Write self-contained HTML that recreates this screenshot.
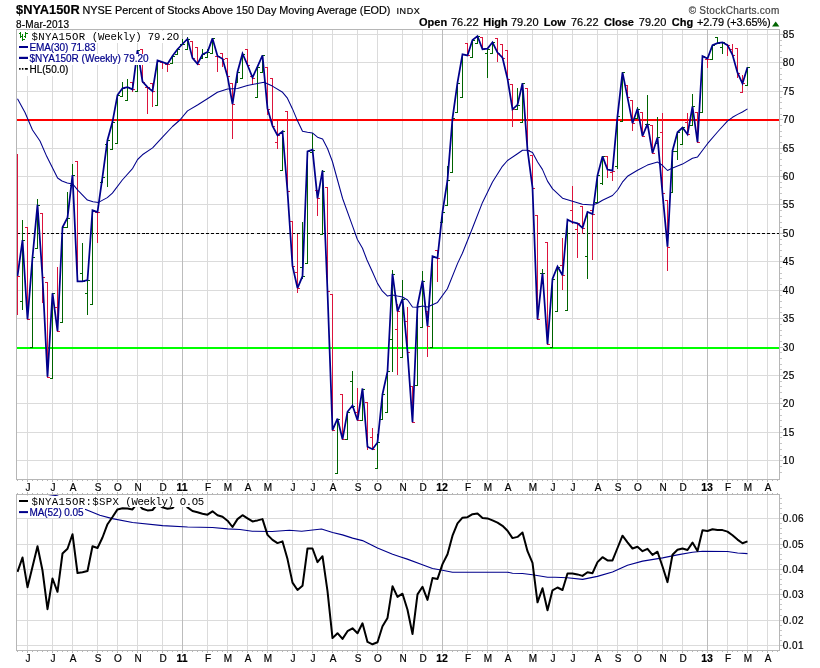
<!DOCTYPE html>
<html><head><meta charset="utf-8"><title>$NYA150R</title>
<style>
html,body{margin:0;padding:0;background:#fff}
body{width:820px;height:668px;position:relative;overflow:hidden;font-family:"Liberation Sans",sans-serif}
.t{position:absolute;white-space:nowrap;font-family:"Liberation Sans",sans-serif;-webkit-text-stroke:.2px}
#tx{position:absolute;left:0;top:0;width:820px;height:668px;will-change:transform;transform:translateZ(0)}
.lg{position:absolute;background:#fff}
</style></head><body>
<svg width="820" height="668" viewBox="0 0 820 668" style="position:absolute;left:0;top:0">
<rect width="820" height="668" fill="#fff"/>
<g shape-rendering="crispEdges" fill="none">
<line x1="16.5" x2="779.5" y1="460.5" y2="460.5" stroke="#dbdbdb"/>
<line x1="16.5" x2="779.5" y1="432.5" y2="432.5" stroke="#dbdbdb"/>
<line x1="16.5" x2="779.5" y1="403.5" y2="403.5" stroke="#dbdbdb"/>
<line x1="16.5" x2="779.5" y1="375.5" y2="375.5" stroke="#dbdbdb"/>
<line x1="16.5" x2="779.5" y1="347.5" y2="347.5" stroke="#dbdbdb"/>
<line x1="16.5" x2="779.5" y1="318.5" y2="318.5" stroke="#dbdbdb"/>
<line x1="16.5" x2="779.5" y1="290.5" y2="290.5" stroke="#dbdbdb"/>
<line x1="16.5" x2="779.5" y1="261.5" y2="261.5" stroke="#dbdbdb"/>
<line x1="16.5" x2="779.5" y1="233.5" y2="233.5" stroke="#dbdbdb"/>
<line x1="16.5" x2="779.5" y1="204.5" y2="204.5" stroke="#dbdbdb"/>
<line x1="16.5" x2="779.5" y1="176.5" y2="176.5" stroke="#dbdbdb"/>
<line x1="16.5" x2="779.5" y1="148.5" y2="148.5" stroke="#dbdbdb"/>
<line x1="16.5" x2="779.5" y1="119.5" y2="119.5" stroke="#dbdbdb"/>
<line x1="16.5" x2="779.5" y1="91.5" y2="91.5" stroke="#dbdbdb"/>
<line x1="16.5" x2="779.5" y1="62.5" y2="62.5" stroke="#dbdbdb"/>
<line x1="16.5" x2="779.5" y1="34.5" y2="34.5" stroke="#dbdbdb"/>
<line x1="16.5" x2="779.5" y1="645.5" y2="645.5" stroke="#dbdbdb"/>
<line x1="16.5" x2="779.5" y1="620.5" y2="620.5" stroke="#dbdbdb"/>
<line x1="16.5" x2="779.5" y1="594.5" y2="594.5" stroke="#dbdbdb"/>
<line x1="16.5" x2="779.5" y1="569.5" y2="569.5" stroke="#dbdbdb"/>
<line x1="16.5" x2="779.5" y1="544.5" y2="544.5" stroke="#dbdbdb"/>
<line x1="16.5" x2="779.5" y1="518.5" y2="518.5" stroke="#dbdbdb"/>
<line x1="27.5" x2="27.5" y1="29.5" y2="479.5" stroke="#dbdbdb"/>
<line x1="27.5" x2="27.5" y1="494.5" y2="650.5" stroke="#dbdbdb"/>
<line x1="52.5" x2="52.5" y1="29.5" y2="479.5" stroke="#dbdbdb"/>
<line x1="52.5" x2="52.5" y1="494.5" y2="650.5" stroke="#dbdbdb"/>
<line x1="72.5" x2="72.5" y1="29.5" y2="479.5" stroke="#dbdbdb"/>
<line x1="72.5" x2="72.5" y1="494.5" y2="650.5" stroke="#dbdbdb"/>
<line x1="97.5" x2="97.5" y1="29.5" y2="479.5" stroke="#dbdbdb"/>
<line x1="97.5" x2="97.5" y1="494.5" y2="650.5" stroke="#dbdbdb"/>
<line x1="117.5" x2="117.5" y1="29.5" y2="479.5" stroke="#dbdbdb"/>
<line x1="117.5" x2="117.5" y1="494.5" y2="650.5" stroke="#dbdbdb"/>
<line x1="137.5" x2="137.5" y1="29.5" y2="479.5" stroke="#dbdbdb"/>
<line x1="137.5" x2="137.5" y1="494.5" y2="650.5" stroke="#dbdbdb"/>
<line x1="162.5" x2="162.5" y1="29.5" y2="479.5" stroke="#dbdbdb"/>
<line x1="162.5" x2="162.5" y1="494.5" y2="650.5" stroke="#dbdbdb"/>
<line x1="182.5" x2="182.5" y1="29.5" y2="479.5" stroke="#bcbcbc"/>
<line x1="182.5" x2="182.5" y1="494.5" y2="650.5" stroke="#bcbcbc"/>
<line x1="207.5" x2="207.5" y1="29.5" y2="479.5" stroke="#dbdbdb"/>
<line x1="207.5" x2="207.5" y1="494.5" y2="650.5" stroke="#dbdbdb"/>
<line x1="227.5" x2="227.5" y1="29.5" y2="479.5" stroke="#dbdbdb"/>
<line x1="227.5" x2="227.5" y1="494.5" y2="650.5" stroke="#dbdbdb"/>
<line x1="247.5" x2="247.5" y1="29.5" y2="479.5" stroke="#dbdbdb"/>
<line x1="247.5" x2="247.5" y1="494.5" y2="650.5" stroke="#dbdbdb"/>
<line x1="267.5" x2="267.5" y1="29.5" y2="479.5" stroke="#dbdbdb"/>
<line x1="267.5" x2="267.5" y1="494.5" y2="650.5" stroke="#dbdbdb"/>
<line x1="292.5" x2="292.5" y1="29.5" y2="479.5" stroke="#dbdbdb"/>
<line x1="292.5" x2="292.5" y1="494.5" y2="650.5" stroke="#dbdbdb"/>
<line x1="312.5" x2="312.5" y1="29.5" y2="479.5" stroke="#dbdbdb"/>
<line x1="312.5" x2="312.5" y1="494.5" y2="650.5" stroke="#dbdbdb"/>
<line x1="332.5" x2="332.5" y1="29.5" y2="479.5" stroke="#dbdbdb"/>
<line x1="332.5" x2="332.5" y1="494.5" y2="650.5" stroke="#dbdbdb"/>
<line x1="357.5" x2="357.5" y1="29.5" y2="479.5" stroke="#dbdbdb"/>
<line x1="357.5" x2="357.5" y1="494.5" y2="650.5" stroke="#dbdbdb"/>
<line x1="377.5" x2="377.5" y1="29.5" y2="479.5" stroke="#dbdbdb"/>
<line x1="377.5" x2="377.5" y1="494.5" y2="650.5" stroke="#dbdbdb"/>
<line x1="402.5" x2="402.5" y1="29.5" y2="479.5" stroke="#dbdbdb"/>
<line x1="402.5" x2="402.5" y1="494.5" y2="650.5" stroke="#dbdbdb"/>
<line x1="422.5" x2="422.5" y1="29.5" y2="479.5" stroke="#dbdbdb"/>
<line x1="422.5" x2="422.5" y1="494.5" y2="650.5" stroke="#dbdbdb"/>
<line x1="442.5" x2="442.5" y1="29.5" y2="479.5" stroke="#bcbcbc"/>
<line x1="442.5" x2="442.5" y1="494.5" y2="650.5" stroke="#bcbcbc"/>
<line x1="467.5" x2="467.5" y1="29.5" y2="479.5" stroke="#dbdbdb"/>
<line x1="467.5" x2="467.5" y1="494.5" y2="650.5" stroke="#dbdbdb"/>
<line x1="487.5" x2="487.5" y1="29.5" y2="479.5" stroke="#dbdbdb"/>
<line x1="487.5" x2="487.5" y1="494.5" y2="650.5" stroke="#dbdbdb"/>
<line x1="507.5" x2="507.5" y1="29.5" y2="479.5" stroke="#dbdbdb"/>
<line x1="507.5" x2="507.5" y1="494.5" y2="650.5" stroke="#dbdbdb"/>
<line x1="532.5" x2="532.5" y1="29.5" y2="479.5" stroke="#dbdbdb"/>
<line x1="532.5" x2="532.5" y1="494.5" y2="650.5" stroke="#dbdbdb"/>
<line x1="552.5" x2="552.5" y1="29.5" y2="479.5" stroke="#dbdbdb"/>
<line x1="552.5" x2="552.5" y1="494.5" y2="650.5" stroke="#dbdbdb"/>
<line x1="572.5" x2="572.5" y1="29.5" y2="479.5" stroke="#dbdbdb"/>
<line x1="572.5" x2="572.5" y1="494.5" y2="650.5" stroke="#dbdbdb"/>
<line x1="597.5" x2="597.5" y1="29.5" y2="479.5" stroke="#dbdbdb"/>
<line x1="597.5" x2="597.5" y1="494.5" y2="650.5" stroke="#dbdbdb"/>
<line x1="617.5" x2="617.5" y1="29.5" y2="479.5" stroke="#dbdbdb"/>
<line x1="617.5" x2="617.5" y1="494.5" y2="650.5" stroke="#dbdbdb"/>
<line x1="637.5" x2="637.5" y1="29.5" y2="479.5" stroke="#dbdbdb"/>
<line x1="637.5" x2="637.5" y1="494.5" y2="650.5" stroke="#dbdbdb"/>
<line x1="662.5" x2="662.5" y1="29.5" y2="479.5" stroke="#dbdbdb"/>
<line x1="662.5" x2="662.5" y1="494.5" y2="650.5" stroke="#dbdbdb"/>
<line x1="682.5" x2="682.5" y1="29.5" y2="479.5" stroke="#dbdbdb"/>
<line x1="682.5" x2="682.5" y1="494.5" y2="650.5" stroke="#dbdbdb"/>
<line x1="707.5" x2="707.5" y1="29.5" y2="479.5" stroke="#bcbcbc"/>
<line x1="707.5" x2="707.5" y1="494.5" y2="650.5" stroke="#bcbcbc"/>
<line x1="727.5" x2="727.5" y1="29.5" y2="479.5" stroke="#dbdbdb"/>
<line x1="727.5" x2="727.5" y1="494.5" y2="650.5" stroke="#dbdbdb"/>
<line x1="747.5" x2="747.5" y1="29.5" y2="479.5" stroke="#dbdbdb"/>
<line x1="747.5" x2="747.5" y1="494.5" y2="650.5" stroke="#dbdbdb"/>
<line x1="767.5" x2="767.5" y1="29.5" y2="479.5" stroke="#dbdbdb"/>
<line x1="767.5" x2="767.5" y1="494.5" y2="650.5" stroke="#dbdbdb"/>
</g>
<line x1="16.5" x2="779.5" y1="120.0" y2="120.0" stroke="#ff0000" stroke-width="2" shape-rendering="crispEdges"/>
<line x1="16.5" x2="779.5" y1="348.0" y2="348.0" stroke="#00ff00" stroke-width="2" shape-rendering="crispEdges"/>
<line x1="16.5" x2="779.5" y1="233.5" y2="233.5" stroke="#000" stroke-width="1" stroke-dasharray="3,2" shape-rendering="crispEdges"/>
<clipPath id="mc"><rect x="17.0" y="30.0" width="762.0" height="449.0"/></clipPath>
<g shape-rendering="crispEdges" fill="none" stroke-width="1" clip-path="url(#mc)">
<path d="M17.5 154V315M15.0 154.5H17.5M17.5 276.5H20.0" stroke="#dc143c"/>
<path d="M22.5 220V310M20.0 301.5H22.5M22.5 240.5H25.0" stroke="#006400"/>
<path d="M27.5 227V320M25.0 227.5H27.5M27.5 319.5H30.0" stroke="#dc143c"/>
<path d="M32.5 257V348M30.0 347.5H32.5M32.5 257.5H35.0" stroke="#006400"/>
<path d="M37.5 199V249M35.0 248.5H37.5M37.5 205.5H40.0" stroke="#006400"/>
<path d="M42.5 213V303M40.0 213.5H42.5M42.5 277.5H45.0" stroke="#dc143c"/>
<path d="M47.5 282V378M45.0 282.5H47.5M47.5 377.5H50.0" stroke="#dc143c"/>
<path d="M52.5 293V379M50.0 378.5H52.5M52.5 293.5H55.0" stroke="#006400"/>
<path d="M57.5 267V332M55.0 307.5H57.5M57.5 331.5H60.0" stroke="#dc143c"/>
<path d="M62.5 227V323M60.0 322.5H62.5M62.5 227.5H65.0" stroke="#006400"/>
<path d="M67.5 192V228M65.0 227.5H67.5M67.5 218.5H70.0" stroke="#006400"/>
<path d="M72.5 164V186M70.0 185.5H72.5M72.5 175.5H75.0" stroke="#006400"/>
<path d="M77.5 161V282M75.0 161.5H77.5M77.5 281.5H80.0" stroke="#dc143c"/>
<path d="M82.5 243V282M80.0 273.5H82.5M82.5 281.5H85.0" stroke="#006400"/>
<path d="M87.5 278V315M85.0 293.5H87.5M87.5 280.5H90.0" stroke="#006400"/>
<path d="M92.5 210V305M90.0 304.5H92.5M92.5 210.5H95.0" stroke="#006400"/>
<path d="M97.5 212V243M95.0 212.5H97.5M97.5 212.5H100.0" stroke="#dc143c"/>
<path d="M102.5 176V183M100.0 182.5H102.5M102.5 177.5H105.0" stroke="#006400"/>
<path d="M107.5 140V187M105.0 144.5H107.5M107.5 140.5H110.0" stroke="#006400"/>
<path d="M112.5 122V150M110.0 149.5H112.5M112.5 122.5H115.0" stroke="#006400"/>
<path d="M117.5 95V144M115.0 143.5H117.5M117.5 95.5H120.0" stroke="#006400"/>
<path d="M122.5 82V97M120.0 96.5H122.5M122.5 88.5H125.0" stroke="#006400"/>
<path d="M127.5 79V101M125.0 100.5H127.5M127.5 87.5H130.0" stroke="#006400"/>
<path d="M132.5 82V92M130.0 82.5H132.5M132.5 89.5H135.0" stroke="#dc143c"/>
<path d="M137.5 50V92M135.0 91.5H137.5M137.5 50.5H140.0" stroke="#006400"/>
<path d="M142.5 49V83M140.0 49.5H142.5M142.5 82.5H145.0" stroke="#dc143c"/>
<path d="M147.5 87V114M145.0 87.5H147.5M147.5 87.5H150.0" stroke="#dc143c"/>
<path d="M152.5 83V107M150.0 83.5H152.5M152.5 91.5H155.0" stroke="#dc143c"/>
<path d="M157.5 61V106M155.0 105.5H157.5M157.5 61.5H160.0" stroke="#006400"/>
<path d="M162.5 62V69M160.0 62.5H162.5M162.5 62.5H165.0" stroke="#dc143c"/>
<path d="M167.5 64V72M165.0 64.5H167.5M167.5 64.5H170.0" stroke="#dc143c"/>
<path d="M172.5 55V64M170.0 63.5H172.5M172.5 56.5H175.0" stroke="#006400"/>
<path d="M177.5 49V55M175.0 54.5H177.5M177.5 49.5H180.0" stroke="#006400"/>
<path d="M182.5 39V45M180.0 44.5H182.5M182.5 44.5H185.0" stroke="#006400"/>
<path d="M187.5 37V50M185.0 49.5H187.5M187.5 39.5H190.0" stroke="#006400"/>
<path d="M192.5 41V59M190.0 41.5H192.5M192.5 58.5H195.0" stroke="#dc143c"/>
<path d="M197.5 47V65M195.0 47.5H197.5M197.5 64.5H200.0" stroke="#dc143c"/>
<path d="M202.5 49V59M200.0 58.5H202.5M202.5 54.5H205.0" stroke="#006400"/>
<path d="M207.5 49V58M205.0 57.5H207.5M207.5 52.5H210.0" stroke="#006400"/>
<path d="M212.5 38V54M210.0 53.5H212.5M212.5 38.5H215.0" stroke="#006400"/>
<path d="M217.5 56V72M215.0 56.5H217.5M217.5 56.5H220.0" stroke="#dc143c"/>
<path d="M222.5 53V67M220.0 53.5H222.5M222.5 59.5H225.0" stroke="#dc143c"/>
<path d="M227.5 58V78M225.0 58.5H227.5M227.5 76.5H230.0" stroke="#dc143c"/>
<path d="M232.5 83V139M230.0 83.5H232.5M232.5 104.5H235.0" stroke="#dc143c"/>
<path d="M237.5 72V83M235.0 82.5H237.5M237.5 72.5H240.0" stroke="#006400"/>
<path d="M242.5 54V79M240.0 78.5H242.5M242.5 54.5H245.0" stroke="#006400"/>
<path d="M247.5 49V66M245.0 49.5H247.5M247.5 65.5H250.0" stroke="#dc143c"/>
<path d="M252.5 76V85M250.0 76.5H252.5M252.5 78.5H255.0" stroke="#dc143c"/>
<path d="M257.5 67V98M255.0 97.5H257.5M257.5 67.5H260.0" stroke="#006400"/>
<path d="M262.5 55V73M260.0 72.5H262.5M262.5 55.5H265.0" stroke="#006400"/>
<path d="M267.5 67V115M265.0 67.5H267.5M267.5 109.5H270.0" stroke="#dc143c"/>
<path d="M272.5 78V127M270.0 78.5H272.5M272.5 126.5H275.0" stroke="#dc143c"/>
<path d="M277.5 121V149M275.0 142.5H277.5M277.5 135.5H280.0" stroke="#dc143c"/>
<path d="M282.5 131V171M280.0 170.5H282.5M282.5 131.5H285.0" stroke="#006400"/>
<path d="M287.5 111V192M285.0 111.5H287.5M287.5 191.5H290.0" stroke="#dc143c"/>
<path d="M292.5 221V268M290.0 221.5H292.5M292.5 266.5H295.0" stroke="#dc143c"/>
<path d="M297.5 234V293M295.0 272.5H297.5M297.5 288.5H300.0" stroke="#dc143c"/>
<path d="M302.5 222V279M300.0 267.5H302.5M302.5 276.5H305.0" stroke="#006400"/>
<path d="M307.5 151V264M305.0 263.5H307.5M307.5 151.5H310.0" stroke="#006400"/>
<path d="M312.5 133V153M310.0 152.5H312.5M312.5 150.5H315.0" stroke="#006400"/>
<path d="M317.5 190V216M315.0 190.5H317.5M317.5 198.5H320.0" stroke="#dc143c"/>
<path d="M322.5 170V235M320.0 234.5H322.5M322.5 171.5H325.0" stroke="#006400"/>
<path d="M327.5 187V292M325.0 187.5H327.5M327.5 291.5H330.0" stroke="#dc143c"/>
<path d="M332.5 294V431M330.0 294.5H332.5M332.5 430.5H335.0" stroke="#dc143c"/>
<path d="M337.5 419V474M335.0 473.5H337.5M337.5 419.5H340.0" stroke="#006400"/>
<path d="M342.5 394V440M340.0 394.5H342.5M342.5 439.5H345.0" stroke="#dc143c"/>
<path d="M347.5 412V440M345.0 439.5H347.5M347.5 412.5H350.0" stroke="#006400"/>
<path d="M352.5 371V407M350.0 381.5H352.5M352.5 406.5H355.0" stroke="#006400"/>
<path d="M357.5 388V421M355.0 412.5H357.5M357.5 420.5H360.0" stroke="#dc143c"/>
<path d="M362.5 389V421M360.0 420.5H362.5M362.5 389.5H365.0" stroke="#006400"/>
<path d="M367.5 402V450M365.0 402.5H367.5M367.5 447.5H370.0" stroke="#dc143c"/>
<path d="M372.5 428V450M370.0 437.5H372.5M372.5 449.5H375.0" stroke="#dc143c"/>
<path d="M377.5 434V469M375.0 468.5H377.5M377.5 442.5H380.0" stroke="#006400"/>
<path d="M382.5 394V420M380.0 419.5H382.5M382.5 394.5H385.0" stroke="#006400"/>
<path d="M387.5 371V413M385.0 412.5H387.5M387.5 371.5H390.0" stroke="#006400"/>
<path d="M392.5 270V372M390.0 339.5H392.5M392.5 274.5H395.0" stroke="#006400"/>
<path d="M397.5 304V375M395.0 329.5H397.5M397.5 311.5H400.0" stroke="#dc143c"/>
<path d="M402.5 280V358M400.0 357.5H402.5M402.5 299.5H405.0" stroke="#006400"/>
<path d="M407.5 307V353M405.0 321.5H407.5M407.5 352.5H410.0" stroke="#dc143c"/>
<path d="M412.5 386V423M410.0 386.5H412.5M412.5 422.5H415.0" stroke="#dc143c"/>
<path d="M417.5 306V386M415.0 385.5H417.5M417.5 306.5H420.0" stroke="#006400"/>
<path d="M422.5 271V328M420.0 327.5H422.5M422.5 281.5H425.0" stroke="#006400"/>
<path d="M427.5 311V357M425.0 311.5H427.5M427.5 326.5H430.0" stroke="#dc143c"/>
<path d="M432.5 256V348M430.0 347.5H432.5M432.5 256.5H435.0" stroke="#006400"/>
<path d="M437.5 250V282M435.0 250.5H437.5M437.5 258.5H440.0" stroke="#dc143c"/>
<path d="M442.5 212V223M440.0 222.5H442.5M442.5 212.5H445.0" stroke="#006400"/>
<path d="M447.5 166V206M445.0 205.5H447.5M447.5 180.5H450.0" stroke="#006400"/>
<path d="M452.5 118V173M450.0 172.5H452.5M452.5 118.5H455.0" stroke="#006400"/>
<path d="M457.5 83V113M455.0 112.5H457.5M457.5 83.5H460.0" stroke="#006400"/>
<path d="M462.5 54V98M460.0 97.5H462.5M462.5 54.5H465.0" stroke="#006400"/>
<path d="M467.5 43V56M465.0 43.5H467.5M467.5 55.5H470.0" stroke="#dc143c"/>
<path d="M472.5 40V58M470.0 57.5H472.5M472.5 40.5H475.0" stroke="#006400"/>
<path d="M477.5 36V44M475.0 43.5H477.5M477.5 36.5H480.0" stroke="#006400"/>
<path d="M482.5 37V50M480.0 37.5H482.5M482.5 49.5H485.0" stroke="#dc143c"/>
<path d="M487.5 49V78M485.0 53.5H487.5M487.5 49.5H490.0" stroke="#006400"/>
<path d="M492.5 42V54M490.0 53.5H492.5M492.5 42.5H495.0" stroke="#006400"/>
<path d="M497.5 38V62M495.0 38.5H497.5M497.5 53.5H500.0" stroke="#dc143c"/>
<path d="M502.5 44V59M500.0 44.5H502.5M502.5 58.5H505.0" stroke="#dc143c"/>
<path d="M507.5 50V80M505.0 50.5H507.5M507.5 79.5H510.0" stroke="#dc143c"/>
<path d="M512.5 84V127M510.0 84.5H512.5M512.5 109.5H515.0" stroke="#dc143c"/>
<path d="M517.5 88V110M515.0 109.5H517.5M517.5 105.5H520.0" stroke="#006400"/>
<path d="M522.5 83V123M520.0 122.5H522.5M522.5 83.5H525.0" stroke="#006400"/>
<path d="M527.5 88V151M525.0 88.5H527.5M527.5 150.5H530.0" stroke="#dc143c"/>
<path d="M532.5 155V189M530.0 155.5H532.5M532.5 188.5H535.0" stroke="#dc143c"/>
<path d="M537.5 215V320M535.0 215.5H537.5M537.5 319.5H540.0" stroke="#dc143c"/>
<path d="M542.5 269V274M540.0 273.5H542.5M542.5 273.5H545.0" stroke="#006400"/>
<path d="M547.5 242V345M545.0 242.5H547.5M547.5 344.5H550.0" stroke="#dc143c"/>
<path d="M552.5 279V348M550.0 347.5H552.5M552.5 279.5H555.0" stroke="#006400"/>
<path d="M557.5 267V312M555.0 311.5H557.5M557.5 267.5H560.0" stroke="#006400"/>
<path d="M562.5 238V290M560.0 265.5H562.5M562.5 275.5H565.0" stroke="#dc143c"/>
<path d="M567.5 220V311M565.0 310.5H567.5M567.5 220.5H570.0" stroke="#006400"/>
<path d="M572.5 186V224M570.0 210.5H572.5M572.5 222.5H575.0" stroke="#dc143c"/>
<path d="M577.5 223V258M575.0 229.5H577.5M577.5 223.5H580.0" stroke="#dc143c"/>
<path d="M582.5 206V234M580.0 206.5H582.5M582.5 228.5H585.0" stroke="#dc143c"/>
<path d="M587.5 212V279M585.0 256.5H587.5M587.5 212.5H590.0" stroke="#006400"/>
<path d="M592.5 210V260M590.0 210.5H592.5M592.5 214.5H595.0" stroke="#dc143c"/>
<path d="M597.5 175V203M595.0 202.5H597.5M597.5 175.5H600.0" stroke="#006400"/>
<path d="M602.5 156V185M600.0 183.5H602.5M602.5 156.5H605.0" stroke="#006400"/>
<path d="M607.5 156V178M605.0 156.5H607.5M607.5 169.5H610.0" stroke="#dc143c"/>
<path d="M612.5 171V181M610.0 172.5H612.5M612.5 171.5H615.0" stroke="#dc143c"/>
<path d="M617.5 116V169M615.0 166.5H617.5M617.5 116.5H620.0" stroke="#006400"/>
<path d="M622.5 72V122M620.0 121.5H622.5M622.5 72.5H625.0" stroke="#006400"/>
<path d="M627.5 85V98M625.0 85.5H627.5M627.5 97.5H630.0" stroke="#dc143c"/>
<path d="M632.5 100V131M630.0 100.5H632.5M632.5 123.5H635.0" stroke="#dc143c"/>
<path d="M637.5 107V119M635.0 118.5H637.5M637.5 109.5H640.0" stroke="#006400"/>
<path d="M642.5 112V137M640.0 112.5H642.5M642.5 136.5H645.0" stroke="#dc143c"/>
<path d="M647.5 95V125M645.0 124.5H647.5M647.5 124.5H650.0" stroke="#006400"/>
<path d="M652.5 125V154M650.0 125.5H652.5M652.5 153.5H655.0" stroke="#dc143c"/>
<path d="M657.5 117V144M655.0 143.5H657.5M657.5 137.5H660.0" stroke="#006400"/>
<path d="M662.5 113V194M660.0 132.5H662.5M662.5 193.5H665.0" stroke="#dc143c"/>
<path d="M667.5 200V271M665.0 200.5H667.5M667.5 247.5H670.0" stroke="#dc143c"/>
<path d="M672.5 151V193M670.0 192.5H672.5M672.5 151.5H675.0" stroke="#006400"/>
<path d="M677.5 132V160M675.0 151.5H677.5M677.5 132.5H680.0" stroke="#006400"/>
<path d="M682.5 127V145M680.0 144.5H682.5M682.5 127.5H685.0" stroke="#006400"/>
<path d="M687.5 113V135M685.0 122.5H687.5M687.5 134.5H690.0" stroke="#dc143c"/>
<path d="M692.5 94V126M690.0 125.5H692.5M692.5 106.5H695.0" stroke="#006400"/>
<path d="M697.5 112V143M695.0 112.5H697.5M697.5 142.5H700.0" stroke="#dc143c"/>
<path d="M702.5 56V113M700.0 112.5H702.5M702.5 56.5H705.0" stroke="#006400"/>
<path d="M707.5 59V68M705.0 59.5H707.5M707.5 59.5H710.0" stroke="#dc143c"/>
<path d="M712.5 45V60M710.0 59.5H712.5M712.5 45.5H715.0" stroke="#006400"/>
<path d="M717.5 37V44M715.0 37.5H717.5M717.5 43.5H720.0" stroke="#006400"/>
<path d="M722.5 42V54M720.0 47.5H722.5M722.5 42.5H725.0" stroke="#006400"/>
<path d="M727.5 44V56M725.0 44.5H727.5M727.5 45.5H730.0" stroke="#dc143c"/>
<path d="M732.5 44V56M730.0 49.5H732.5M732.5 55.5H735.0" stroke="#dc143c"/>
<path d="M737.5 48V78M735.0 48.5H737.5M737.5 73.5H740.0" stroke="#dc143c"/>
<path d="M742.5 75V93M740.0 92.5H742.5M742.5 83.5H745.0" stroke="#dc143c"/>
<path d="M747.5 67V86M745.0 85.5H747.5M747.5 67.5H750.0" stroke="#006400"/>
</g>
<polyline fill="none" stroke="#00008b" stroke-width="1.05" stroke-linejoin="round" points="17.5,98.8 25.0,112.5 32.5,130.0 40.0,141.0 46.8,156.6 57.6,178.0 62.0,181.0 67.3,182.9 72.6,183.9 78.0,190.3 87.4,200.1 93.0,201.8 98.5,202.4 107.3,197.6 112.4,193.1 122.3,180.0 132.7,168.3 137.6,159.5 142.4,154.8 152.6,147.9 162.5,137.2 172.5,126.5 179.9,120.0 187.5,110.9 197.5,105.0 207.4,98.8 217.4,92.3 227.5,89.0 237.5,88.4 247.4,85.5 257.4,83.5 264.0,82.2 272.4,86.1 282.6,92.3 287.4,98.2 292.5,108.9 297.4,120.6 302.5,131.3 307.5,132.3 312.4,132.9 317.5,137.2 322.6,139.1 327.5,148.5 332.4,161.5 342.6,198.5 352.5,225.9 357.4,239.5 362.5,248.3 367.0,260.0 372.4,271.7 377.5,283.4 382.4,291.2 387.5,296.1 392.5,295.1 397.4,296.1 402.5,297.0 407.6,300.0 412.5,307.0 417.5,307.2 422.6,306.0 427.5,307.0 437.5,302.4 447.4,288.8 457.6,263.4 462.4,253.2 472.6,227.8 482.5,202.4 492.5,182.0 502.4,166.3 507.5,160.5 517.5,153.7 522.5,150.3 527.4,150.2 532.5,152.6 537.6,162.0 542.4,169.4 547.5,181.1 552.6,188.9 562.5,198.2 572.5,201.3 582.4,204.2 592.6,205.0 597.5,203.3 602.5,200.3 612.5,195.5 617.6,190.0 622.4,182.2 627.5,176.3 637.5,170.2 647.4,165.1 657.6,162.1 662.4,165.3 667.5,170.5 672.6,168.0 682.5,164.1 692.5,158.3 697.6,156.9 702.4,150.5 707.5,143.7 717.5,132.0 727.4,121.2 732.5,117.3 737.6,114.4 742.4,112.0 747.5,108.9"/>
<polyline fill="none" stroke="#00008b" stroke-width="1.75" stroke-linejoin="miter" stroke-miterlimit="3" points="17.5,276.2 22.5,240.1 27.5,319.3 32.5,257.4 37.5,204.7 42.5,277.3 47.5,376.6 52.5,293.2 57.5,331.2 62.5,227.3 67.5,217.7 72.5,175.1 77.5,281.3 82.5,281.3 87.5,280.1 92.5,210.3 97.5,212.0 102.5,176.8 107.5,140.0 112.5,121.8 117.5,95.1 122.5,88.3 127.5,87.2 132.5,89.4 137.5,50.3 142.5,81.5 147.5,87.2 152.5,91.2 157.5,60.5 162.5,62.2 167.5,63.9 172.5,56.0 177.5,49.2 182.5,44.0 187.5,38.9 192.5,58.2 197.5,63.9 202.5,54.3 207.5,52.0 212.5,38.4 217.5,56.0 222.5,58.8 227.5,76.4 232.5,104.2 237.5,71.9 242.5,53.7 247.5,65.0 252.5,77.5 257.5,66.7 262.5,55.4 267.5,108.7 272.5,125.8 277.5,135.4 282.5,131.4 287.5,191.3 292.5,265.9 297.5,288.1 302.5,276.2 307.5,151.3 312.5,149.6 317.5,198.4 322.5,170.6 327.5,291.2 332.5,430.1 337.5,418.6 342.5,439.3 347.5,411.8 352.5,405.5 357.5,420.3 362.5,388.5 367.5,446.7 372.5,449.2 377.5,442.4 382.5,394.2 387.5,371.5 392.5,273.9 397.5,311.3 402.5,298.9 407.5,351.6 412.5,422.3 417.5,305.7 422.5,280.7 427.5,326.1 432.5,256.3 437.5,258.0 442.5,212.0 447.5,180.2 452.5,118.4 457.5,82.6 462.5,54.3 467.5,55.4 472.5,40.1 477.5,36.1 482.5,49.2 487.5,48.6 492.5,42.3 497.5,52.6 502.5,57.7 507.5,78.7 512.5,109.3 517.5,104.8 522.5,83.2 527.5,149.9 532.5,187.6 537.5,319.3 542.5,273.3 547.5,344.3 552.5,279.0 557.5,266.5 562.5,275.3 567.5,219.7 572.5,222.2 577.5,223.4 582.5,227.9 587.5,212.0 592.5,214.0 597.5,175.4 602.5,156.4 607.5,169.5 612.5,170.6 617.5,116.1 622.5,72.4 627.5,97.4 632.5,123.2 637.5,108.7 642.5,136.0 647.5,123.8 652.5,153.0 657.5,137.4 662.5,193.3 667.5,246.6 672.5,150.7 677.5,132.3 682.5,127.5 687.5,134.3 692.5,106.5 697.5,142.2 702.5,56.2 707.5,58.5 712.5,45.2 717.5,43.2 722.5,42.3 727.5,45.2 732.5,54.8 737.5,72.7 742.5,83.5 747.5,67.3"/>
<clipPath id="lc"><rect x="16.5" y="494.5" width="763.0" height="156.0"/></clipPath>
<g clip-path="url(#lc)">
<polyline fill="none" stroke="#00008b" stroke-width="1.15" stroke-linejoin="round" points="30.0,491.5 48.0,494.4 57.0,495.8 70.0,501.5 85.0,509.3 90.0,511.3 99.8,515.2 112.4,518.6 132.5,522.5 162.6,525.6 187.6,527.0 212.5,527.5 227.6,528.9 240.0,529.5 252.3,531.2 272.1,531.5 289.4,530.2 301.7,531.2 321.5,529.0 332.6,532.5 342.5,534.9 352.6,538.1 362.5,540.6 377.5,548.0 392.6,554.2 400.0,556.7 407.3,559.1 422.4,564.8 432.5,568.5 442.4,570.2 452.5,572.2 469.0,572.2 507.6,572.2 512.5,573.2 522.4,573.5 532.5,574.7 547.6,577.2 555.0,577.2 567.3,577.7 582.6,579.4 597.4,576.4 612.5,572.0 627.5,565.3 642.6,561.1 662.6,557.9 677.4,554.9 692.5,552.2 702.6,551.3 727.5,551.5 737.6,553.0 747.5,553.6"/>
<polyline fill="none" stroke="#000" stroke-width="2" stroke-linejoin="round" points="17.5,571.8 22.5,557.5 27.5,587.2 32.5,566.8 37.5,546.2 42.5,570.5 47.5,609.2 52.5,578.5 57.5,591.8 62.5,553.5 67.5,548.8 72.5,534.2 77.5,573.0 82.5,572.2 87.5,571.0 92.5,546.2 97.5,548.0 102.5,537.5 107.5,524.2 112.5,517.0 117.5,509.4 122.5,508.3 127.5,508.4 132.5,509.4 137.5,503.0 142.5,508.8 147.5,510.4 152.5,510.0 157.5,504.0 162.5,507.4 167.5,508.8 172.5,508.0 177.5,502.0 182.5,500.0 187.5,507.4 192.5,511.0 197.5,512.3 202.5,513.7 207.5,514.7 212.5,511.3 217.5,515.2 222.5,516.8 227.5,520.7 232.5,527.0 237.5,519.1 242.5,515.2 247.5,518.3 252.5,521.4 257.5,520.4 262.5,519.1 267.5,534.9 272.5,539.9 277.5,543.1 282.5,541.4 287.5,559.1 292.5,582.6 297.5,590.0 302.5,585.8 307.5,548.5 312.5,548.5 317.5,562.1 322.5,556.2 327.5,591.2 332.5,638.1 337.5,633.2 342.5,638.9 347.5,631.2 352.5,628.3 357.5,633.2 362.5,623.3 367.5,641.9 372.5,644.3 377.5,642.3 382.5,626.3 387.5,617.9 392.5,586.3 397.5,596.9 402.5,593.7 407.5,609.8 412.5,634.0 417.5,594.4 422.5,586.8 427.5,599.9 432.5,578.1 437.5,578.9 442.5,564.1 447.5,554.2 452.5,535.7 457.5,523.3 462.5,517.7 467.5,517.2 472.5,514.2 477.5,513.5 482.5,517.9 487.5,518.4 492.5,520.4 497.5,522.6 502.5,525.8 507.5,530.7 512.5,538.1 517.5,536.9 522.5,532.5 527.5,551.2 532.5,562.8 537.5,602.3 542.5,588.3 547.5,610.2 552.5,590.3 557.5,587.5 562.5,590.0 567.5,573.5 572.5,573.5 577.5,574.4 582.5,575.9 587.5,572.2 592.5,573.2 597.5,562.1 602.5,557.2 607.5,560.4 612.5,560.4 617.5,548.0 622.5,535.7 627.5,542.3 632.5,548.5 637.5,546.8 642.5,551.2 647.5,548.8 652.5,554.9 657.5,551.7 662.5,566.5 667.5,582.1 672.5,554.7 677.5,549.8 682.5,548.5 687.5,550.0 692.5,542.6 697.5,551.0 702.5,530.3 707.5,531.0 712.5,529.3 717.5,530.1 722.5,530.1 727.5,531.6 732.5,535.2 737.5,539.6 742.5,543.2 747.5,541.4"/>
</g>
<g shape-rendering="crispEdges" fill="none" stroke="#b6b6b6">
<rect x="16.5" y="29.5" width="763.0" height="450.0"/>
<rect x="16.5" y="494.5" width="763.0" height="156.0"/>
<path d="M17.5 480.0v1M17.5 494.0v-1M17.5 651.0v1M22.5 480.0v1M22.5 494.0v-1M22.5 651.0v1M27.5 480.0v2M27.5 494.0v-2M27.5 651.0v2M32.5 480.0v1M32.5 494.0v-1M32.5 651.0v1M37.5 480.0v1M37.5 494.0v-1M37.5 651.0v1M42.5 480.0v1M42.5 494.0v-1M42.5 651.0v1M47.5 480.0v1M47.5 494.0v-1M47.5 651.0v1M52.5 480.0v2M52.5 494.0v-2M52.5 651.0v2M57.5 480.0v1M57.5 494.0v-1M57.5 651.0v1M62.5 480.0v1M62.5 494.0v-1M62.5 651.0v1M67.5 480.0v1M67.5 494.0v-1M67.5 651.0v1M72.5 480.0v2M72.5 494.0v-2M72.5 651.0v2M77.5 480.0v1M77.5 494.0v-1M77.5 651.0v1M82.5 480.0v1M82.5 494.0v-1M82.5 651.0v1M87.5 480.0v1M87.5 494.0v-1M87.5 651.0v1M92.5 480.0v1M92.5 494.0v-1M92.5 651.0v1M97.5 480.0v2M97.5 494.0v-2M97.5 651.0v2M102.5 480.0v1M102.5 494.0v-1M102.5 651.0v1M107.5 480.0v1M107.5 494.0v-1M107.5 651.0v1M112.5 480.0v1M112.5 494.0v-1M112.5 651.0v1M117.5 480.0v2M117.5 494.0v-2M117.5 651.0v2M122.5 480.0v1M122.5 494.0v-1M122.5 651.0v1M127.5 480.0v1M127.5 494.0v-1M127.5 651.0v1M132.5 480.0v1M132.5 494.0v-1M132.5 651.0v1M137.5 480.0v2M137.5 494.0v-2M137.5 651.0v2M142.5 480.0v1M142.5 494.0v-1M142.5 651.0v1M147.5 480.0v1M147.5 494.0v-1M147.5 651.0v1M152.5 480.0v1M152.5 494.0v-1M152.5 651.0v1M157.5 480.0v1M157.5 494.0v-1M157.5 651.0v1M162.5 480.0v2M162.5 494.0v-2M162.5 651.0v2M167.5 480.0v1M167.5 494.0v-1M167.5 651.0v1M172.5 480.0v1M172.5 494.0v-1M172.5 651.0v1M177.5 480.0v1M177.5 494.0v-1M177.5 651.0v1M182.5 480.0v2M182.5 494.0v-2M182.5 651.0v2M187.5 480.0v1M187.5 494.0v-1M187.5 651.0v1M192.5 480.0v1M192.5 494.0v-1M192.5 651.0v1M197.5 480.0v1M197.5 494.0v-1M197.5 651.0v1M202.5 480.0v1M202.5 494.0v-1M202.5 651.0v1M207.5 480.0v2M207.5 494.0v-2M207.5 651.0v2M212.5 480.0v1M212.5 494.0v-1M212.5 651.0v1M217.5 480.0v1M217.5 494.0v-1M217.5 651.0v1M222.5 480.0v1M222.5 494.0v-1M222.5 651.0v1M227.5 480.0v2M227.5 494.0v-2M227.5 651.0v2M232.5 480.0v1M232.5 494.0v-1M232.5 651.0v1M237.5 480.0v1M237.5 494.0v-1M237.5 651.0v1M242.5 480.0v1M242.5 494.0v-1M242.5 651.0v1M247.5 480.0v2M247.5 494.0v-2M247.5 651.0v2M252.5 480.0v1M252.5 494.0v-1M252.5 651.0v1M257.5 480.0v1M257.5 494.0v-1M257.5 651.0v1M262.5 480.0v1M262.5 494.0v-1M262.5 651.0v1M267.5 480.0v2M267.5 494.0v-2M267.5 651.0v2M272.5 480.0v1M272.5 494.0v-1M272.5 651.0v1M277.5 480.0v1M277.5 494.0v-1M277.5 651.0v1M282.5 480.0v1M282.5 494.0v-1M282.5 651.0v1M287.5 480.0v1M287.5 494.0v-1M287.5 651.0v1M292.5 480.0v2M292.5 494.0v-2M292.5 651.0v2M297.5 480.0v1M297.5 494.0v-1M297.5 651.0v1M302.5 480.0v1M302.5 494.0v-1M302.5 651.0v1M307.5 480.0v1M307.5 494.0v-1M307.5 651.0v1M312.5 480.0v2M312.5 494.0v-2M312.5 651.0v2M317.5 480.0v1M317.5 494.0v-1M317.5 651.0v1M322.5 480.0v1M322.5 494.0v-1M322.5 651.0v1M327.5 480.0v1M327.5 494.0v-1M327.5 651.0v1M332.5 480.0v2M332.5 494.0v-2M332.5 651.0v2M337.5 480.0v1M337.5 494.0v-1M337.5 651.0v1M342.5 480.0v1M342.5 494.0v-1M342.5 651.0v1M347.5 480.0v1M347.5 494.0v-1M347.5 651.0v1M352.5 480.0v1M352.5 494.0v-1M352.5 651.0v1M357.5 480.0v2M357.5 494.0v-2M357.5 651.0v2M362.5 480.0v1M362.5 494.0v-1M362.5 651.0v1M367.5 480.0v1M367.5 494.0v-1M367.5 651.0v1M372.5 480.0v1M372.5 494.0v-1M372.5 651.0v1M377.5 480.0v2M377.5 494.0v-2M377.5 651.0v2M382.5 480.0v1M382.5 494.0v-1M382.5 651.0v1M387.5 480.0v1M387.5 494.0v-1M387.5 651.0v1M392.5 480.0v1M392.5 494.0v-1M392.5 651.0v1M397.5 480.0v1M397.5 494.0v-1M397.5 651.0v1M402.5 480.0v2M402.5 494.0v-2M402.5 651.0v2M407.5 480.0v1M407.5 494.0v-1M407.5 651.0v1M412.5 480.0v1M412.5 494.0v-1M412.5 651.0v1M417.5 480.0v1M417.5 494.0v-1M417.5 651.0v1M422.5 480.0v2M422.5 494.0v-2M422.5 651.0v2M427.5 480.0v1M427.5 494.0v-1M427.5 651.0v1M432.5 480.0v1M432.5 494.0v-1M432.5 651.0v1M437.5 480.0v1M437.5 494.0v-1M437.5 651.0v1M442.5 480.0v2M442.5 494.0v-2M442.5 651.0v2M447.5 480.0v1M447.5 494.0v-1M447.5 651.0v1M452.5 480.0v1M452.5 494.0v-1M452.5 651.0v1M457.5 480.0v1M457.5 494.0v-1M457.5 651.0v1M462.5 480.0v1M462.5 494.0v-1M462.5 651.0v1M467.5 480.0v2M467.5 494.0v-2M467.5 651.0v2M472.5 480.0v1M472.5 494.0v-1M472.5 651.0v1M477.5 480.0v1M477.5 494.0v-1M477.5 651.0v1M482.5 480.0v1M482.5 494.0v-1M482.5 651.0v1M487.5 480.0v2M487.5 494.0v-2M487.5 651.0v2M492.5 480.0v1M492.5 494.0v-1M492.5 651.0v1M497.5 480.0v1M497.5 494.0v-1M497.5 651.0v1M502.5 480.0v1M502.5 494.0v-1M502.5 651.0v1M507.5 480.0v2M507.5 494.0v-2M507.5 651.0v2M512.5 480.0v1M512.5 494.0v-1M512.5 651.0v1M517.5 480.0v1M517.5 494.0v-1M517.5 651.0v1M522.5 480.0v1M522.5 494.0v-1M522.5 651.0v1M527.5 480.0v1M527.5 494.0v-1M527.5 651.0v1M532.5 480.0v2M532.5 494.0v-2M532.5 651.0v2M537.5 480.0v1M537.5 494.0v-1M537.5 651.0v1M542.5 480.0v1M542.5 494.0v-1M542.5 651.0v1M547.5 480.0v1M547.5 494.0v-1M547.5 651.0v1M552.5 480.0v2M552.5 494.0v-2M552.5 651.0v2M557.5 480.0v1M557.5 494.0v-1M557.5 651.0v1M562.5 480.0v1M562.5 494.0v-1M562.5 651.0v1M567.5 480.0v1M567.5 494.0v-1M567.5 651.0v1M572.5 480.0v2M572.5 494.0v-2M572.5 651.0v2M577.5 480.0v1M577.5 494.0v-1M577.5 651.0v1M582.5 480.0v1M582.5 494.0v-1M582.5 651.0v1M587.5 480.0v1M587.5 494.0v-1M587.5 651.0v1M592.5 480.0v1M592.5 494.0v-1M592.5 651.0v1M597.5 480.0v2M597.5 494.0v-2M597.5 651.0v2M602.5 480.0v1M602.5 494.0v-1M602.5 651.0v1M607.5 480.0v1M607.5 494.0v-1M607.5 651.0v1M612.5 480.0v1M612.5 494.0v-1M612.5 651.0v1M617.5 480.0v2M617.5 494.0v-2M617.5 651.0v2M622.5 480.0v1M622.5 494.0v-1M622.5 651.0v1M627.5 480.0v1M627.5 494.0v-1M627.5 651.0v1M632.5 480.0v1M632.5 494.0v-1M632.5 651.0v1M637.5 480.0v2M637.5 494.0v-2M637.5 651.0v2M642.5 480.0v1M642.5 494.0v-1M642.5 651.0v1M647.5 480.0v1M647.5 494.0v-1M647.5 651.0v1M652.5 480.0v1M652.5 494.0v-1M652.5 651.0v1M657.5 480.0v1M657.5 494.0v-1M657.5 651.0v1M662.5 480.0v2M662.5 494.0v-2M662.5 651.0v2M667.5 480.0v1M667.5 494.0v-1M667.5 651.0v1M672.5 480.0v1M672.5 494.0v-1M672.5 651.0v1M677.5 480.0v1M677.5 494.0v-1M677.5 651.0v1M682.5 480.0v2M682.5 494.0v-2M682.5 651.0v2M687.5 480.0v1M687.5 494.0v-1M687.5 651.0v1M692.5 480.0v1M692.5 494.0v-1M692.5 651.0v1M697.5 480.0v1M697.5 494.0v-1M697.5 651.0v1M702.5 480.0v1M702.5 494.0v-1M702.5 651.0v1M707.5 480.0v2M707.5 494.0v-2M707.5 651.0v2M712.5 480.0v1M712.5 494.0v-1M712.5 651.0v1M717.5 480.0v1M717.5 494.0v-1M717.5 651.0v1M722.5 480.0v1M722.5 494.0v-1M722.5 651.0v1M727.5 480.0v2M727.5 494.0v-2M727.5 651.0v2M732.5 480.0v1M732.5 494.0v-1M732.5 651.0v1M737.5 480.0v1M737.5 494.0v-1M737.5 651.0v1M742.5 480.0v1M742.5 494.0v-1M742.5 651.0v1M747.5 480.0v2M747.5 494.0v-2M747.5 651.0v2M752.5 480.0v1M752.5 494.0v-1M752.5 651.0v1M757.5 480.0v1M757.5 494.0v-1M757.5 651.0v1M762.5 480.0v1M762.5 494.0v-1M762.5 651.0v1M767.5 480.0v2M767.5 494.0v-2M767.5 651.0v2M772.5 480.0v1M772.5 494.0v-1M772.5 651.0v1M777.5 480.0v1M777.5 494.0v-1M777.5 651.0v1"/>
</g>
<g shape-rendering="crispEdges" fill="none" stroke="#c6c6c6">
<path d="M780.0 472.5h1.5M780.0 466.5h1.5M780.0 460.5h3M780.0 455.5h1.5M780.0 449.5h1.5M780.0 443.5h1.5M780.0 437.5h1.5M780.0 432.5h3M780.0 426.5h1.5M780.0 420.5h1.5M780.0 415.5h1.5M780.0 409.5h1.5M780.0 403.5h3M780.0 398.5h1.5M780.0 392.5h1.5M780.0 386.5h1.5M780.0 381.5h1.5M780.0 375.5h3M780.0 369.5h1.5M780.0 364.5h1.5M780.0 358.5h1.5M780.0 352.5h1.5M780.0 347.5h3M780.0 341.5h1.5M780.0 335.5h1.5M780.0 330.5h1.5M780.0 324.5h1.5M780.0 318.5h3M780.0 312.5h1.5M780.0 307.5h1.5M780.0 301.5h1.5M780.0 295.5h1.5M780.0 290.5h3M780.0 284.5h1.5M780.0 278.5h1.5M780.0 273.5h1.5M780.0 267.5h1.5M780.0 261.5h3M780.0 256.5h1.5M780.0 250.5h1.5M780.0 244.5h1.5M780.0 239.5h1.5M780.0 233.5h3M780.0 227.5h1.5M780.0 222.5h1.5M780.0 216.5h1.5M780.0 210.5h1.5M780.0 204.5h3M780.0 199.5h1.5M780.0 193.5h1.5M780.0 187.5h1.5M780.0 182.5h1.5M780.0 176.5h3M780.0 170.5h1.5M780.0 165.5h1.5M780.0 159.5h1.5M780.0 153.5h1.5M780.0 148.5h3M780.0 142.5h1.5M780.0 136.5h1.5M780.0 131.5h1.5M780.0 125.5h1.5M780.0 119.5h3M780.0 114.5h1.5M780.0 108.5h1.5M780.0 102.5h1.5M780.0 97.5h1.5M780.0 91.5h3M780.0 85.5h1.5M780.0 79.5h1.5M780.0 74.5h1.5M780.0 68.5h1.5M780.0 62.5h3M780.0 57.5h1.5M780.0 51.5h1.5M780.0 45.5h1.5M780.0 40.5h1.5M780.0 34.5h3"/>
<path d="M780.0 645.5h3M780.0 640.5h1.5M780.0 635.5h1.5M780.0 630.5h1.5M780.0 625.5h1.5M780.0 620.5h3M780.0 615.5h1.5M780.0 609.5h1.5M780.0 604.5h1.5M780.0 599.5h1.5M780.0 594.5h3M780.0 589.5h1.5M780.0 584.5h1.5M780.0 579.5h1.5M780.0 574.5h1.5M780.0 569.5h3M780.0 564.5h1.5M780.0 559.5h1.5M780.0 554.5h1.5M780.0 548.5h1.5M780.0 544.5h3M780.0 538.5h1.5M780.0 533.5h1.5M780.0 528.5h1.5M780.0 523.5h1.5M780.0 518.5h3M780.0 513.5h1.5M780.0 508.5h1.5M780.0 503.5h1.5M780.0 498.5h1.5"/>
</g>
</svg>
<div id="tx">
<div class="t" style="left:16px;top:3.0px;font-size:13.2px;line-height:13.2px;height:13.2px;font-weight:bold;color:#000;transform:scaleX(.972);transform-origin:0 0;">$NYA150R</div>
<div class="t" style="left:82.5px;top:4.7px;font-size:10.83px;line-height:10.83px;height:10.83px;font-weight:normal;color:#000;">NYSE Percent of Stocks Above 150 Day Moving Average (EOD)</div>
<div class="t" style="left:396.5px;top:6.5px;font-size:9px;line-height:9px;height:9px;font-weight:normal;color:#000;letter-spacing:.6px;">INDX</div>
<div class="t" style="left:479.5px;width:300px;text-align:right;top:5.8px;font-size:10px;line-height:10px;font-weight:normal;color:#444;letter-spacing:.27px;">&copy; StockCharts.com</div>
<div class="t" style="left:16px;top:19.5px;font-size:10px;line-height:10px;height:10px;font-weight:normal;color:#000;letter-spacing:.15px;">8-Mar-2013</div>
<div class="t" style="left:419px;top:17.3px;font-size:11px;line-height:11px;height:11px;font-weight:bold;color:#000;">Open</div>
<div class="t" style="left:451px;top:17.3px;font-size:11px;line-height:11px;height:11px;font-weight:normal;color:#000;">76.22</div>
<div class="t" style="left:483.3px;top:17.3px;font-size:11px;line-height:11px;height:11px;font-weight:bold;color:#000;">High</div>
<div class="t" style="left:511px;top:17.3px;font-size:11px;line-height:11px;height:11px;font-weight:normal;color:#000;">79.20</div>
<div class="t" style="left:543.7px;top:17.3px;font-size:11px;line-height:11px;height:11px;font-weight:bold;color:#000;">Low</div>
<div class="t" style="left:571px;top:17.3px;font-size:11px;line-height:11px;height:11px;font-weight:normal;color:#000;">76.22</div>
<div class="t" style="left:604px;top:17.3px;font-size:11px;line-height:11px;height:11px;font-weight:bold;color:#000;">Close</div>
<div class="t" style="left:638.8px;top:17.3px;font-size:11px;line-height:11px;height:11px;font-weight:normal;color:#000;">79.20</div>
<div class="t" style="left:671.8px;top:17.3px;font-size:11px;line-height:11px;height:11px;font-weight:bold;color:#000;">Chg</div>
<div class="t" style="left:697px;top:17.3px;font-size:11px;line-height:11px;height:11px;font-weight:normal;color:#000;"><span style="letter-spacing:-.17px">+2.79 (+3.65%)</span></div>
<div class="t" style="left:782.7px;top:455.5px;font-size:10px;line-height:10px;height:10px;font-weight:normal;color:#000;letter-spacing:.5px;">10</div>
<div class="t" style="left:782.7px;top:427.5px;font-size:10px;line-height:10px;height:10px;font-weight:normal;color:#000;letter-spacing:.5px;">15</div>
<div class="t" style="left:782.7px;top:398.5px;font-size:10px;line-height:10px;height:10px;font-weight:normal;color:#000;letter-spacing:.5px;">20</div>
<div class="t" style="left:782.7px;top:370.5px;font-size:10px;line-height:10px;height:10px;font-weight:normal;color:#000;letter-spacing:.5px;">25</div>
<div class="t" style="left:782.7px;top:342.5px;font-size:10px;line-height:10px;height:10px;font-weight:normal;color:#000;letter-spacing:.5px;">30</div>
<div class="t" style="left:782.7px;top:313.5px;font-size:10px;line-height:10px;height:10px;font-weight:normal;color:#000;letter-spacing:.5px;">35</div>
<div class="t" style="left:782.7px;top:285.5px;font-size:10px;line-height:10px;height:10px;font-weight:normal;color:#000;letter-spacing:.5px;">40</div>
<div class="t" style="left:782.7px;top:256.5px;font-size:10px;line-height:10px;height:10px;font-weight:normal;color:#000;letter-spacing:.5px;">45</div>
<div class="t" style="left:782.7px;top:228.5px;font-size:10px;line-height:10px;height:10px;font-weight:normal;color:#000;letter-spacing:.5px;">50</div>
<div class="t" style="left:782.7px;top:199.5px;font-size:10px;line-height:10px;height:10px;font-weight:normal;color:#000;letter-spacing:.5px;">55</div>
<div class="t" style="left:782.7px;top:171.5px;font-size:10px;line-height:10px;height:10px;font-weight:normal;color:#000;letter-spacing:.5px;">60</div>
<div class="t" style="left:782.7px;top:143.5px;font-size:10px;line-height:10px;height:10px;font-weight:normal;color:#000;letter-spacing:.5px;">65</div>
<div class="t" style="left:782.7px;top:114.5px;font-size:10px;line-height:10px;height:10px;font-weight:normal;color:#000;letter-spacing:.5px;">70</div>
<div class="t" style="left:782.7px;top:86.5px;font-size:10px;line-height:10px;height:10px;font-weight:normal;color:#000;letter-spacing:.5px;">75</div>
<div class="t" style="left:782.7px;top:57.5px;font-size:10px;line-height:10px;height:10px;font-weight:normal;color:#000;letter-spacing:.5px;">80</div>
<div class="t" style="left:782.7px;top:29.5px;font-size:10px;line-height:10px;height:10px;font-weight:normal;color:#000;letter-spacing:.5px;">85</div>
<div class="t" style="left:782.7px;top:640.5px;font-size:10px;line-height:10px;height:10px;font-weight:normal;color:#000;letter-spacing:.5px;">0.01</div>
<div class="t" style="left:782.7px;top:615.5px;font-size:10px;line-height:10px;height:10px;font-weight:normal;color:#000;letter-spacing:.5px;">0.02</div>
<div class="t" style="left:782.7px;top:589.5px;font-size:10px;line-height:10px;height:10px;font-weight:normal;color:#000;letter-spacing:.5px;">0.03</div>
<div class="t" style="left:782.7px;top:564.5px;font-size:10px;line-height:10px;height:10px;font-weight:normal;color:#000;letter-spacing:.5px;">0.04</div>
<div class="t" style="left:782.7px;top:539.5px;font-size:10px;line-height:10px;height:10px;font-weight:normal;color:#000;letter-spacing:.5px;">0.05</div>
<div class="t" style="left:782.7px;top:513.5px;font-size:10px;line-height:10px;height:10px;font-weight:normal;color:#000;letter-spacing:.5px;">0.06</div>
<div class="t" style="left:-22.0px;width:100px;text-align:center;top:482.5px;font-size:10px;line-height:10px;font-weight:normal;color:#000;">J</div>
<div class="t" style="left:-22.0px;width:100px;text-align:center;top:653.5px;font-size:10px;line-height:10px;font-weight:normal;color:#000;">J</div>
<div class="t" style="left:3.0px;width:100px;text-align:center;top:482.5px;font-size:10px;line-height:10px;font-weight:normal;color:#000;">J</div>
<div class="t" style="left:3.0px;width:100px;text-align:center;top:653.5px;font-size:10px;line-height:10px;font-weight:normal;color:#000;">J</div>
<div class="t" style="left:23.0px;width:100px;text-align:center;top:482.5px;font-size:10px;line-height:10px;font-weight:normal;color:#000;">A</div>
<div class="t" style="left:23.0px;width:100px;text-align:center;top:653.5px;font-size:10px;line-height:10px;font-weight:normal;color:#000;">A</div>
<div class="t" style="left:48.0px;width:100px;text-align:center;top:482.5px;font-size:10px;line-height:10px;font-weight:normal;color:#000;">S</div>
<div class="t" style="left:48.0px;width:100px;text-align:center;top:653.5px;font-size:10px;line-height:10px;font-weight:normal;color:#000;">S</div>
<div class="t" style="left:68.0px;width:100px;text-align:center;top:482.5px;font-size:10px;line-height:10px;font-weight:normal;color:#000;">O</div>
<div class="t" style="left:68.0px;width:100px;text-align:center;top:653.5px;font-size:10px;line-height:10px;font-weight:normal;color:#000;">O</div>
<div class="t" style="left:88.0px;width:100px;text-align:center;top:482.5px;font-size:10px;line-height:10px;font-weight:normal;color:#000;">N</div>
<div class="t" style="left:88.0px;width:100px;text-align:center;top:653.5px;font-size:10px;line-height:10px;font-weight:normal;color:#000;">N</div>
<div class="t" style="left:113.0px;width:100px;text-align:center;top:482.5px;font-size:10px;line-height:10px;font-weight:normal;color:#000;">D</div>
<div class="t" style="left:113.0px;width:100px;text-align:center;top:653.5px;font-size:10px;line-height:10px;font-weight:normal;color:#000;">D</div>
<div class="t" style="left:132.0px;width:100px;text-align:center;top:481.5px;font-size:10.5px;line-height:10.5px;font-weight:bold;color:#000;">11</div>
<div class="t" style="left:132.0px;width:100px;text-align:center;top:652.5px;font-size:10.5px;line-height:10.5px;font-weight:bold;color:#000;">11</div>
<div class="t" style="left:158.0px;width:100px;text-align:center;top:482.5px;font-size:10px;line-height:10px;font-weight:normal;color:#000;">F</div>
<div class="t" style="left:158.0px;width:100px;text-align:center;top:653.5px;font-size:10px;line-height:10px;font-weight:normal;color:#000;">F</div>
<div class="t" style="left:178.0px;width:100px;text-align:center;top:482.5px;font-size:10px;line-height:10px;font-weight:normal;color:#000;">M</div>
<div class="t" style="left:178.0px;width:100px;text-align:center;top:653.5px;font-size:10px;line-height:10px;font-weight:normal;color:#000;">M</div>
<div class="t" style="left:198.0px;width:100px;text-align:center;top:482.5px;font-size:10px;line-height:10px;font-weight:normal;color:#000;">A</div>
<div class="t" style="left:198.0px;width:100px;text-align:center;top:653.5px;font-size:10px;line-height:10px;font-weight:normal;color:#000;">A</div>
<div class="t" style="left:218.0px;width:100px;text-align:center;top:482.5px;font-size:10px;line-height:10px;font-weight:normal;color:#000;">M</div>
<div class="t" style="left:218.0px;width:100px;text-align:center;top:653.5px;font-size:10px;line-height:10px;font-weight:normal;color:#000;">M</div>
<div class="t" style="left:243.0px;width:100px;text-align:center;top:482.5px;font-size:10px;line-height:10px;font-weight:normal;color:#000;">J</div>
<div class="t" style="left:243.0px;width:100px;text-align:center;top:653.5px;font-size:10px;line-height:10px;font-weight:normal;color:#000;">J</div>
<div class="t" style="left:263.0px;width:100px;text-align:center;top:482.5px;font-size:10px;line-height:10px;font-weight:normal;color:#000;">J</div>
<div class="t" style="left:263.0px;width:100px;text-align:center;top:653.5px;font-size:10px;line-height:10px;font-weight:normal;color:#000;">J</div>
<div class="t" style="left:283.0px;width:100px;text-align:center;top:482.5px;font-size:10px;line-height:10px;font-weight:normal;color:#000;">A</div>
<div class="t" style="left:283.0px;width:100px;text-align:center;top:653.5px;font-size:10px;line-height:10px;font-weight:normal;color:#000;">A</div>
<div class="t" style="left:308.0px;width:100px;text-align:center;top:482.5px;font-size:10px;line-height:10px;font-weight:normal;color:#000;">S</div>
<div class="t" style="left:308.0px;width:100px;text-align:center;top:653.5px;font-size:10px;line-height:10px;font-weight:normal;color:#000;">S</div>
<div class="t" style="left:328.0px;width:100px;text-align:center;top:482.5px;font-size:10px;line-height:10px;font-weight:normal;color:#000;">O</div>
<div class="t" style="left:328.0px;width:100px;text-align:center;top:653.5px;font-size:10px;line-height:10px;font-weight:normal;color:#000;">O</div>
<div class="t" style="left:353.0px;width:100px;text-align:center;top:482.5px;font-size:10px;line-height:10px;font-weight:normal;color:#000;">N</div>
<div class="t" style="left:353.0px;width:100px;text-align:center;top:653.5px;font-size:10px;line-height:10px;font-weight:normal;color:#000;">N</div>
<div class="t" style="left:373.0px;width:100px;text-align:center;top:482.5px;font-size:10px;line-height:10px;font-weight:normal;color:#000;">D</div>
<div class="t" style="left:373.0px;width:100px;text-align:center;top:653.5px;font-size:10px;line-height:10px;font-weight:normal;color:#000;">D</div>
<div class="t" style="left:392.0px;width:100px;text-align:center;top:481.5px;font-size:10.5px;line-height:10.5px;font-weight:bold;color:#000;">12</div>
<div class="t" style="left:392.0px;width:100px;text-align:center;top:652.5px;font-size:10.5px;line-height:10.5px;font-weight:bold;color:#000;">12</div>
<div class="t" style="left:418.0px;width:100px;text-align:center;top:482.5px;font-size:10px;line-height:10px;font-weight:normal;color:#000;">F</div>
<div class="t" style="left:418.0px;width:100px;text-align:center;top:653.5px;font-size:10px;line-height:10px;font-weight:normal;color:#000;">F</div>
<div class="t" style="left:438.0px;width:100px;text-align:center;top:482.5px;font-size:10px;line-height:10px;font-weight:normal;color:#000;">M</div>
<div class="t" style="left:438.0px;width:100px;text-align:center;top:653.5px;font-size:10px;line-height:10px;font-weight:normal;color:#000;">M</div>
<div class="t" style="left:458.0px;width:100px;text-align:center;top:482.5px;font-size:10px;line-height:10px;font-weight:normal;color:#000;">A</div>
<div class="t" style="left:458.0px;width:100px;text-align:center;top:653.5px;font-size:10px;line-height:10px;font-weight:normal;color:#000;">A</div>
<div class="t" style="left:483.0px;width:100px;text-align:center;top:482.5px;font-size:10px;line-height:10px;font-weight:normal;color:#000;">M</div>
<div class="t" style="left:483.0px;width:100px;text-align:center;top:653.5px;font-size:10px;line-height:10px;font-weight:normal;color:#000;">M</div>
<div class="t" style="left:503.0px;width:100px;text-align:center;top:482.5px;font-size:10px;line-height:10px;font-weight:normal;color:#000;">J</div>
<div class="t" style="left:503.0px;width:100px;text-align:center;top:653.5px;font-size:10px;line-height:10px;font-weight:normal;color:#000;">J</div>
<div class="t" style="left:523.0px;width:100px;text-align:center;top:482.5px;font-size:10px;line-height:10px;font-weight:normal;color:#000;">J</div>
<div class="t" style="left:523.0px;width:100px;text-align:center;top:653.5px;font-size:10px;line-height:10px;font-weight:normal;color:#000;">J</div>
<div class="t" style="left:548.0px;width:100px;text-align:center;top:482.5px;font-size:10px;line-height:10px;font-weight:normal;color:#000;">A</div>
<div class="t" style="left:548.0px;width:100px;text-align:center;top:653.5px;font-size:10px;line-height:10px;font-weight:normal;color:#000;">A</div>
<div class="t" style="left:568.0px;width:100px;text-align:center;top:482.5px;font-size:10px;line-height:10px;font-weight:normal;color:#000;">S</div>
<div class="t" style="left:568.0px;width:100px;text-align:center;top:653.5px;font-size:10px;line-height:10px;font-weight:normal;color:#000;">S</div>
<div class="t" style="left:588.0px;width:100px;text-align:center;top:482.5px;font-size:10px;line-height:10px;font-weight:normal;color:#000;">O</div>
<div class="t" style="left:588.0px;width:100px;text-align:center;top:653.5px;font-size:10px;line-height:10px;font-weight:normal;color:#000;">O</div>
<div class="t" style="left:613.0px;width:100px;text-align:center;top:482.5px;font-size:10px;line-height:10px;font-weight:normal;color:#000;">N</div>
<div class="t" style="left:613.0px;width:100px;text-align:center;top:653.5px;font-size:10px;line-height:10px;font-weight:normal;color:#000;">N</div>
<div class="t" style="left:633.0px;width:100px;text-align:center;top:482.5px;font-size:10px;line-height:10px;font-weight:normal;color:#000;">D</div>
<div class="t" style="left:633.0px;width:100px;text-align:center;top:653.5px;font-size:10px;line-height:10px;font-weight:normal;color:#000;">D</div>
<div class="t" style="left:657.0px;width:100px;text-align:center;top:481.5px;font-size:10.5px;line-height:10.5px;font-weight:bold;color:#000;">13</div>
<div class="t" style="left:657.0px;width:100px;text-align:center;top:652.5px;font-size:10.5px;line-height:10.5px;font-weight:bold;color:#000;">13</div>
<div class="t" style="left:678.0px;width:100px;text-align:center;top:482.5px;font-size:10px;line-height:10px;font-weight:normal;color:#000;">F</div>
<div class="t" style="left:678.0px;width:100px;text-align:center;top:653.5px;font-size:10px;line-height:10px;font-weight:normal;color:#000;">F</div>
<div class="t" style="left:698.0px;width:100px;text-align:center;top:482.5px;font-size:10px;line-height:10px;font-weight:normal;color:#000;">M</div>
<div class="t" style="left:698.0px;width:100px;text-align:center;top:653.5px;font-size:10px;line-height:10px;font-weight:normal;color:#000;">M</div>
<div class="t" style="left:718.0px;width:100px;text-align:center;top:482.5px;font-size:10px;line-height:10px;font-weight:normal;color:#000;">A</div>
<div class="t" style="left:718.0px;width:100px;text-align:center;top:653.5px;font-size:10px;line-height:10px;font-weight:normal;color:#000;">A</div>
<div class="lg" style="left:17px;top:31px;width:164px;height:12px"></div>
<div class="lg" style="left:17px;top:43px;width:79px;height:11px"></div>
<div class="lg" style="left:17px;top:54px;width:132px;height:11px"></div>
<div class="lg" style="left:17px;top:65px;width:52px;height:11px"></div>
<div class="t" style="left:31.5px;top:31.7px;font-size:10.7px;line-height:10.7px;height:10.7px;font-weight:normal;color:#000;font-family:'Liberation Mono',monospace;-webkit-text-stroke:0;"><span style="letter-spacing:.34px">$NYA15OR</span><span style="letter-spacing:-.19px"> (Weekly) 79.2O</span></div>
<div class="t" style="left:29.5px;top:42.5px;font-size:10px;line-height:10px;height:10px;font-weight:normal;color:#00008b;letter-spacing:-.1px;">EMA(30) 71.83</div>
<div class="t" style="left:29.5px;top:54.0px;font-size:10px;line-height:10px;height:10px;font-weight:normal;color:#00008b;">$NYA150R (Weekly) 79.20</div>
<div class="t" style="left:29.5px;top:65.2px;font-size:10px;line-height:10px;height:10px;font-weight:normal;color:#000;">HL(50.0)</div>
<div class="lg" style="left:17px;top:496px;width:188px;height:11px"></div>
<div class="lg" style="left:17px;top:507px;width:68px;height:11px"></div>
<div class="t" style="left:31.5px;top:496.7px;font-size:10.7px;line-height:10.7px;height:10.7px;font-weight:normal;color:#000;font-family:'Liberation Mono',monospace;-webkit-text-stroke:0;"><span style="letter-spacing:.34px">$NYA15OR:$SPX</span><span style="letter-spacing:-.37px"> (Weekly) O.O5</span></div>
<div class="t" style="left:29.5px;top:508.0px;font-size:10px;line-height:10px;height:10px;font-weight:normal;color:#00008b;letter-spacing:-.1px;">MA(52) 0.05</div>
</div>
<svg width="820" height="668" viewBox="0 0 820 668" style="position:absolute;left:0;top:0">
<path d="M20.5 32v6M18.5 33.5h2M22.5 34v7M22.5 39.5h2M20.5 36.5h2M25.5 32v6M25.5 33.5h2M23.5 36.5h2" stroke="#008000" fill="none" shape-rendering="crispEdges"/>
<rect x="19" y="46" width="9" height="2" fill="#00008b"/>
<rect x="19" y="56.8" width="9" height="2.2" fill="#00008b"/>
<path d="M19.1 68.9h1.5M21.9 68.9h1.5M24.9 68.9h2.9" stroke="#000" stroke-width="1.7" fill="none"/>
<rect x="19" y="500" width="9" height="2" fill="#000"/>
<rect x="19" y="511.1" width="9" height="2" fill="#00008b"/>
<path d="M772 26.5l3.7 -5l3.7 5z" fill="#006400"/>
</svg>
</body></html>
